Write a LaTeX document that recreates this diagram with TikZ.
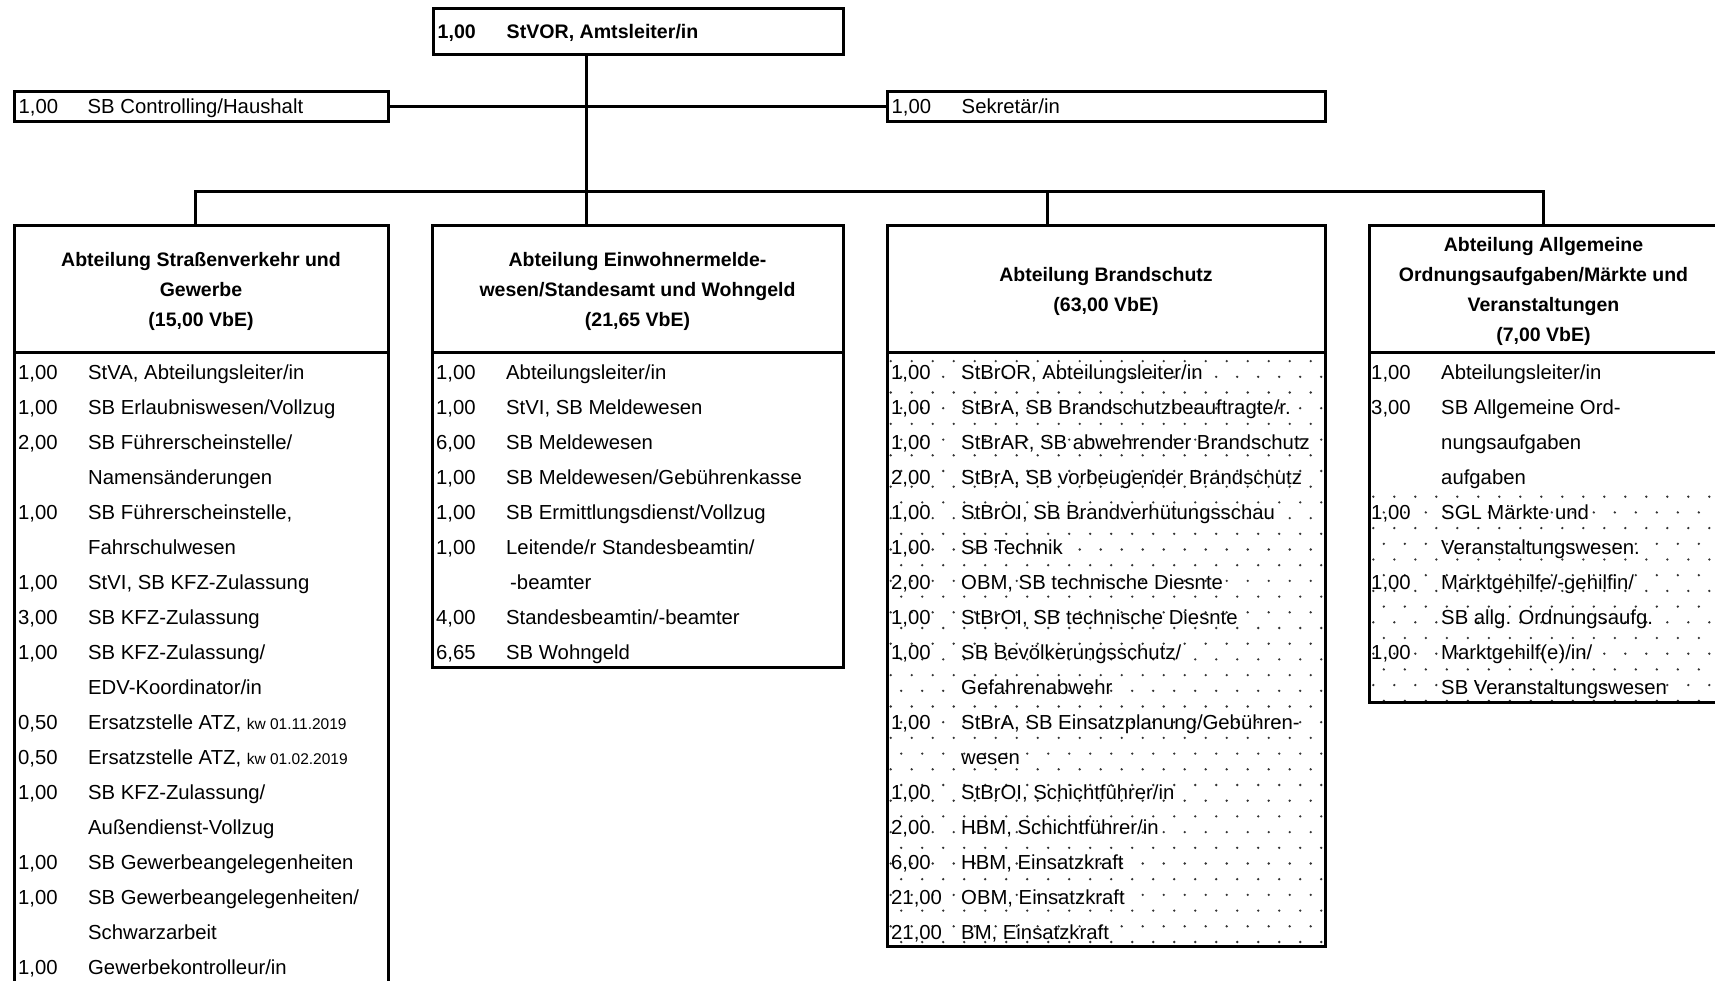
\documentclass[tikz,border=0pt]{standalone}
\usepackage{fontspec}
\setmainfont{Liberation Sans}
\newcommand{\bodyfont}{\fontsize{20.3}{24}\selectfont}
\newcommand{\hdrfont}{\fontsize{19.5}{30}\selectfont\bfseries}
\newcommand{\kwfont}{\fontsize{15.5}{18}\selectfont}
\tikzset{
  box/.style={draw, line width=3pt, rectangle, inner sep=0pt, outer sep=0pt},
  hdr/.style={box, align=center, font=\hdrfont},
  num/.style={anchor=base west, inner sep=0pt, font=\bodyfont},
  txt/.style={anchor=base west, inner sep=0pt, font=\bodyfont},
  toptxt/.style={anchor=base west, inner sep=0pt, font=\fontsize{19.6}{24}\selectfont\bfseries},
  conn/.style={line width=3pt, line join=miter},
  dotc/.style={fill=black!80},
}
% #1 name, #2 left x of box, #3 row index, #4 number, #5 text
\newcommand{\lrow}[5]{%
  \node[num] (#1n) at ({#2+4},{379+35*(#3-1)}) {#4};
  \node[txt] (#1t) at ({#2+74},{379+35*(#3-1)}) {#5};
}
% continuation line: #1 name, #2 left x, #3 row index, #4 text
\newcommand{\lcont}[4]{%
  \node[txt] (#1t) at ({#2+74},{379+35*(#3-1)}) {#4};
}
\begin{document}
\begin{tikzpicture}[x=1pt,y=-1pt]
\useasboundingbox (0,0) rectangle (1715,980);
\fill[white] (0,0) rectangle (1715,980);

% dotted fills
\begin{scope}
  \clip (887,352) rectangle (1325,946);
  \foreach \j in {0,...,39} {
    \foreach \i in {0,...,22} {
      \fill[dotc] ({869.7+21*\i+10.5*mod(\j+1,2)},{345.4+15.7*\j}) circle[radius=1.3pt];
    }
  }
\end{scope}
\begin{scope}
  \clip (1369,494) rectangle (1720,702);
  \foreach \j in {0,...,13} {
    \foreach \i in {0,...,17} {
      \fill[dotc] ({1362.8+21*\i+10.5*mod(\j+1,2)},{496.7+15.7*\j}) circle[radius=1.3pt];
    }
  }
\end{scope}

% top level boxes
\node[box, minimum width=410pt, minimum height=46pt] (top) at (638,31) {};
\node[box, minimum width=374pt, minimum height=30pt] (ctrl) at (201,106) {};
\node[box, minimum width=438pt, minimum height=30pt] (sek) at (1106,106) {};

\node[toptxt] (topn) at (437.5,38.5) {1,00};
\node[toptxt] (topt) at (506.5,38.5) {StVOR, Amtsleiter/in};
\node[num] (ctrln) at (18.5,113) {1,00};
\node[txt] (ctrlt) at (87.5,113) {SB Controlling/Haushalt};
\node[num] (sekn) at (891.5,113) {1,00};
\node[txt] (sekt) at (961.5,113) {Sekretär/in};

% department headers
\node[hdr, minimum width=374pt, minimum height=127pt] (d1) at (201,288.5) {};
\node[hdr, minimum width=411pt, minimum height=127pt] (d2) at (637.5,288.5) {};
\node[hdr, minimum width=438pt, minimum height=127pt] (d3) at (1106,288.5) {};
\node[hdr, minimum width=349pt, minimum height=127pt] (d4) at (1543.5,288.5) {};
\node[align=center, font=\hdrfont, inner sep=0pt] (d1t) at (201,291)
  {Abteilung Straßenverkehr und\\Gewerbe\\(15,00 VbE)};
\node[align=center, font=\hdrfont, inner sep=0pt] (d2t) at (637.5,291)
  {Abteilung Einwohnermelde-\\wesen/Standesamt und Wohngeld\\(21,65 VbE)};
\node[align=center, font=\hdrfont, inner sep=0pt] (d3t) at (1106,291)
  {Abteilung Brandschutz\\(63,00 VbE)};
\node[align=center, font=\hdrfont, inner sep=0pt] (d4t) at (1543.5,291)
  {Abteilung Allgemeine\\Ordnungsaufgaben/Märkte und\\Veranstaltungen\\(7,00 VbE)};

% list boxes
\node[box, minimum width=374pt, minimum height=648pt] (l1) at (201,676) {};
\node[box, minimum width=411pt, minimum height=315pt] (l2) at (637.5,509.5) {};
\node[box, minimum width=438pt, minimum height=594pt] (l3) at (1106,649) {};
\node[box, minimum width=349pt, minimum height=350pt] (l4) at (1543.5,527) {};

% connectors
\coordinate (j1) at (195,191);
\coordinate (j2) at (586,191);
\coordinate (j3) at (1047,191);
\coordinate (j4) at (1543,191);
\draw[conn] (ctrl.east) -- (sek.west);
\draw[conn] (top.south -| j2) -- (d2.north -| j2);
\draw[conn] (d1.north -| j1) -- (j1) -- (j4) -- (d4.north -| j4);
\draw[conn] (j3) -- (d3.north -| j3);

% list 1
\lrow{a1}{14}{1}{1,00}{StVA, Abteilungsleiter/in}
\lrow{a2}{14}{2}{1,00}{SB Erlaubniswesen/Vollzug}
\lrow{a3}{14}{3}{2,00}{SB Führerscheinstelle/}
\lcont{a4}{14}{4}{Namensänderungen}
\lrow{a5}{14}{5}{1,00}{SB Führerscheinstelle,}
\lcont{a6}{14}{6}{Fahrschulwesen}
\lrow{a7}{14}{7}{1,00}{StVI, SB KFZ-Zulassung}
\lrow{a8}{14}{8}{3,00}{SB KFZ-Zulassung}
\lrow{a9}{14}{9}{1,00}{SB KFZ-Zulassung/}
\lcont{a10}{14}{10}{EDV-Koordinator/in}
\lrow{a11}{14}{11}{0,50}{Ersatzstelle ATZ, {\kwfont kw 01.11.2019}}
\lrow{a12}{14}{12}{0,50}{Ersatzstelle ATZ, {\kwfont kw 01.02.2019}}
\lrow{a13}{14}{13}{1,00}{SB KFZ-Zulassung/}
\lcont{a14}{14}{14}{Außendienst-Vollzug}
\lrow{a15}{14}{15}{1,00}{SB Gewerbeangelegenheiten}
\lrow{a16}{14}{16}{1,00}{SB Gewerbeangelegenheiten/}
\lcont{a17}{14}{17}{Schwarzarbeit}
\lrow{a18}{14}{18}{1,00}{Gewerbekontrolleur/in}

% list 2
\lrow{b1}{432}{1}{1,00}{Abteilungsleiter/in}
\lrow{b2}{432}{2}{1,00}{StVI, SB Meldewesen}
\lrow{b3}{432}{3}{6,00}{SB Meldewesen}
\lrow{b4}{432}{4}{1,00}{SB Meldewesen/Gebührenkasse}
\lrow{b5}{432}{5}{1,00}{SB Ermittlungsdienst/Vollzug}
\lrow{b6}{432}{6}{1,00}{Leitende/r Standesbeamtin/}
\lcont{b7}{436}{7}{-beamter}
\lrow{b8}{432}{8}{4,00}{Standesbeamtin/-beamter}
\lrow{b9}{432}{9}{6,65}{SB Wohngeld}

% list 3
\lrow{c1}{887}{1}{1,00}{StBrOR, Abteilungsleiter/in}
\lrow{c2}{887}{2}{1,00}{StBrA, SB Brandschutzbeauftragte/r.}
\lrow{c3}{887}{3}{1,00}{StBrAR, SB abwehrender Brandschutz}
\lrow{c4}{887}{4}{2,00}{StBrA, SB vorbeugender Brandschutz}
\lrow{c5}{887}{5}{1,00}{StBrOI, SB Brandverhütungsschau}
\lrow{c6}{887}{6}{1,00}{SB Technik}
\lrow{c7}{887}{7}{2,00}{OBM, SB technische Diesnte}
\lrow{c8}{887}{8}{1,00}{StBrOI, SB technische Diesnte}
\lrow{c9}{887}{9}{1,00}{SB Bevölkerungsschutz/}
\lcont{c10}{887}{10}{Gefahrenabwehr}
\lrow{c11}{887}{11}{1,00}{StBrA, SB Einsatzplanung/Gebühren-}
\lcont{c12}{887}{12}{wesen}
\lrow{c13}{887}{13}{1,00}{StBrOI, Schichtführer/in}
\lrow{c14}{887}{14}{2,00}{HBM, Schichtführer/in}
\lrow{c15}{887}{15}{6,00}{HBM, Einsatzkraft}
\lrow{c16}{887}{16}{21,00}{OBM, Einsatzkraft}
\lrow{c17}{887}{17}{21,00}{BM, Einsatzkraft}

% list 4
\lrow{e1}{1367}{1}{1,00}{Abteilungsleiter/in}
\lrow{e2}{1367}{2}{3,00}{SB Allgemeine Ord-}
\lcont{e3}{1367}{3}{nungsaufgaben}
\lcont{e4}{1367}{4}{aufgaben}
\lrow{e5}{1367}{5}{1,00}{SGL Märkte und}
\lcont{e6}{1367}{6}{Veranstaltungswesen.}
\lrow{e7}{1367}{7}{1,00}{Marktgehilfe/-gehilfin/}
\lcont{e8}{1367}{8}{SB allg. Ordnungsaufg.}
\lrow{e9}{1367}{9}{1,00}{Marktgehilf(e)/in/}
\lcont{e10}{1367}{10}{SB Veranstaltungswesen}
\end{tikzpicture}
\end{document}
